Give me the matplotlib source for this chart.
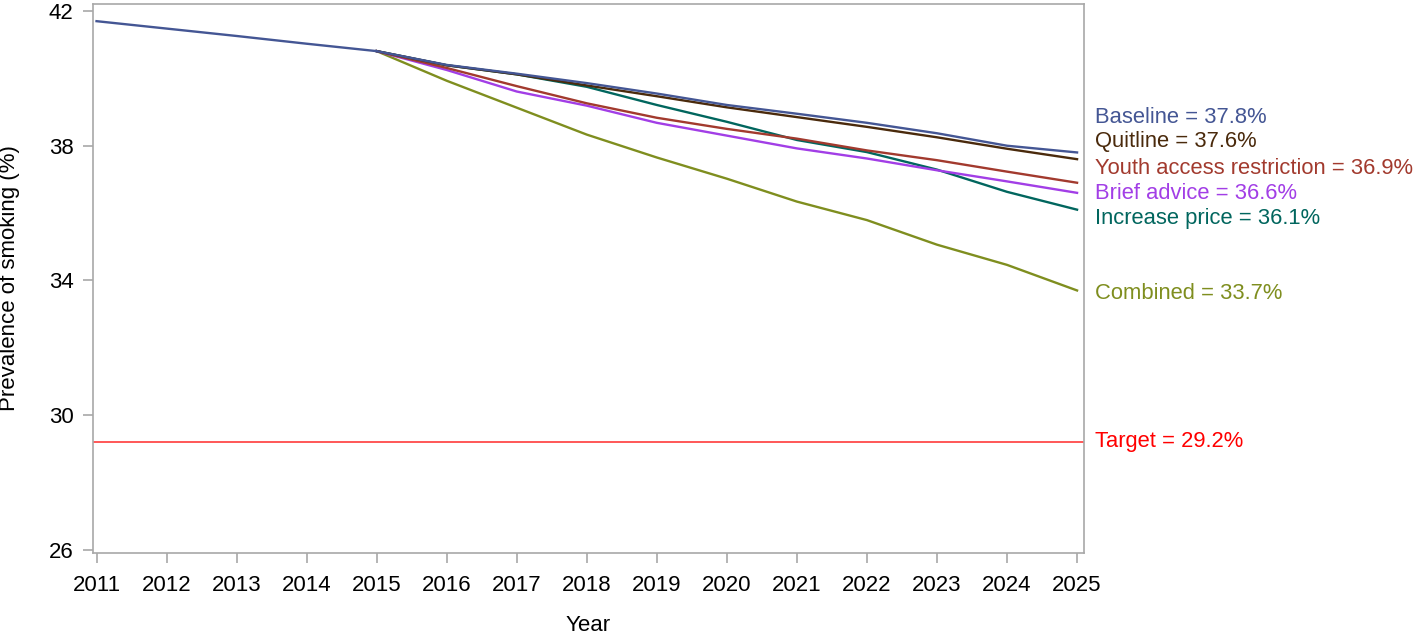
import matplotlib
matplotlib.use("Agg")
import matplotlib.pyplot as plt

plt.rcParams['font.family'] = ['Liberation Sans', 'DejaVu Sans']

years = list(range(2011, 2026))
hist_years = [2011, 2012, 2013, 2014, 2015]
hist_vals = [41.70, 41.48, 41.26, 41.03, 40.81]

proj_years = list(range(2015, 2026))
baseline = [40.81, 40.40, 40.14, 39.86, 39.55, 39.21, 38.95, 38.68, 38.37, 38.00, 37.8]
quitline = [40.81, 40.39, 40.12, 39.79, 39.47, 39.14, 38.85, 38.56, 38.25, 37.91, 37.6]
youth = [40.81, 40.31, 39.77, 39.26, 38.83, 38.50, 38.21, 37.86, 37.57, 37.23, 36.9]
brief = [40.81, 40.25, 39.61, 39.19, 38.68, 38.30, 37.92, 37.62, 37.27, 36.94, 36.6]
price = [40.81, 40.39, 40.12, 39.75, 39.21, 38.71, 38.17, 37.81, 37.29, 36.63, 36.1]
combined = [40.81, 39.93, 39.13, 38.33, 37.65, 37.02, 36.34, 35.79, 35.06, 34.46, 33.7]
target = 29.2

series_names = ["Baseline", "Quitline", "Youth access restriction", "Brief advice",
                "Increase price", "Combined"]
series_vals = [baseline, quitline, youth, brief, price, combined]
colors = ["#445694", "#4a2a0c", "#a23a2e", "#a23ee6", "#01665e", "#7f8e1f"]
label_shift = [1.04, 0.54, 0.41, -0.03, -0.27, -0.08]

fig = plt.figure(figsize=(14.18, 6.35), dpi=100)
ax = fig.add_axes([0.0656, 0.1291, 0.6989, 0.8646])

order = [5, 4, 3, 2, 1, 0]
for i in order:
    ax.plot(proj_years, series_vals[i], color=colors[i], lw=1.7, zorder=3)
ax.plot(hist_years, hist_vals, color=colors[0], lw=1.7, zorder=4)
ax.axhline(target, color="#ff2a2a", lw=1.1, zorder=2)

for i, name in enumerate(series_names):
    end = series_vals[i][-1]
    ax.annotate(f"{name} = {end:.1f}%", xy=(1, end + label_shift[i]),
                xycoords=("axes fraction", "data"), xytext=(8, 0),
                textcoords="offset points", va="center", ha="left",
                color=colors[i], fontsize=15.8, annotation_clip=False)
ax.annotate(f"Target = {target:.1f}%", xy=(1, target), xycoords=("axes fraction", "data"),
            xytext=(8, 0), textcoords="offset points", va="center", ha="left",
            color="#ff0000", fontsize=15.8, annotation_clip=False)

ax.set_xlim(2010.95, 2025.1)
ax.set_ylim(25.9, 42.21)
ax.set_xticks(years)
ax.set_yticks([26, 30, 34, 38, 42])
ax.tick_params(labelsize=16, color="#a8a8a8", length=7, width=1.2)
ax.tick_params(axis="x", pad=9)
ax.tick_params(axis="y", pad=7)
for s in ax.spines.values():
    s.set_color("#a8a8a8")
    s.set_linewidth(1.2)
ax.set_xlabel("Year", fontsize=16)
ax.set_ylabel("Prevalence of smoking (%)", fontsize=16)
ax.xaxis.set_label_coords(0.5, -0.112)
ax.yaxis.set_label_coords(-0.0737, 0.5)

fig.savefig("out.png", dpi=100)
